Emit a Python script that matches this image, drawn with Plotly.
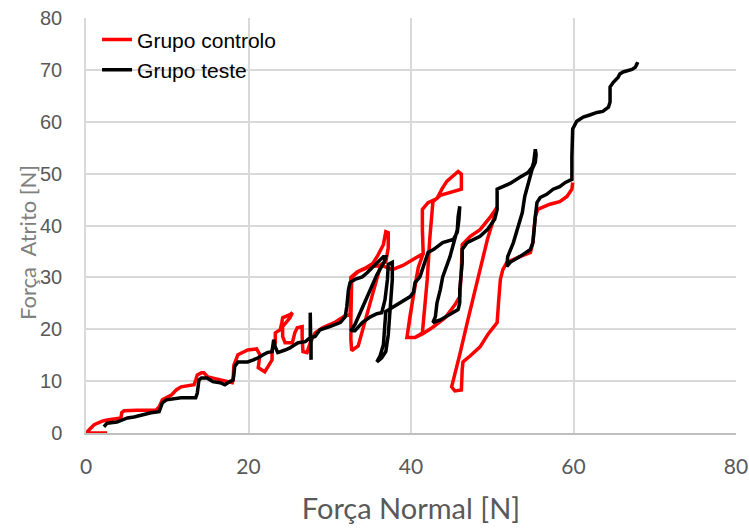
import plotly.graph_objects as go

# Grupo controlo (red)
controlo_x = [2.6, 0.0, 1.0, 2.0, 2.6, 4.3, 4.4, 4.7, 6.3, 8.6, 9.0, 9.4, 10.5, 11.1, 11.7, 12.9, 13.3, 13.5, 13.7, 14.2,
              14.5, 15.0, 16.1, 17.4, 18.0, 18.1, 18.2, 18.7, 19.9, 21.0, 21.4, 21.2, 22.0, 22.4, 22.9, 22.9, 23.3, 23.3, 23.9, 24.1,
              24.2, 25.1, 25.4, 25.1, 24.7, 24.2, 24.2, 24.5, 25.4, 25.7, 26.0, 26.6, 26.6, 26.6, 26.7, 27.2, 27.3, 27.6, 28.2, 29.1,
              30.7, 31.9, 32.5,
              32.5, 32.6, 33.4, 34.5, 35.3, 35.9, 36.6, 36.9, 37.2, 37.2, 36.9, 36.3, 35.6, 34.7, 34.0, 33.5, 32.7, 32.6, 32.6, 32.6,
              32.7, 33.5, 35.0, 36.4, 37.7, 39.0, 40.7, 41.5,
              41.4, 41.4, 42.1, 43.2, 43.8, 44.4, 45.8, 46.2, 46.2, 44.8, 43.6, 42.7, 42.3, 42.0, 41.6, 41.4, 40.5, 39.5, 39.9, 40.4,
              40.9, 41.5, 40.9, 40.4, 39.9, 39.5, 40.5, 41.4, 42.6, 44.2, 45.4, 46.0, 46.2, 46.3, 47.3, 48.5, 49.7, 50.6,
              49.4, 48.3, 47.0, 46.0, 45.0, 45.4, 46.2, 46.3, 46.4, 47.3, 48.5, 49.5, 50.6, 50.8, 51.0, 51.3, 51.8, 53.4, 54.7, 55.0,
              55.3, 55.6, 57.1, 58.3, 59.2, 59.8, 59.9]
controlo_y = [0.0, 0.0, 1.6, 2.3, 2.5, 2.9, 3.9, 4.3, 4.4, 4.4, 5.0, 6.4, 7.3, 8.3, 8.9, 9.3, 9.3, 10.2, 11.2, 11.6,
              11.6, 10.8, 10.4, 9.9, 9.7, 10.2, 13.1, 15.1, 16.0, 16.2, 15.1, 12.6, 11.8, 12.8, 14.1, 16.0, 17.4, 19.3, 19.9, 21.3,
              22.2, 22.8, 23.2, 22.2, 21.4, 20.5, 18.6, 17.4, 17.4, 19.3, 20.3, 20.5, 18.6, 16.6, 15.7, 15.5, 16.0, 17.4, 19.3, 20.3,
              21.4, 22.6, 22.8,
              26.7, 30.0, 31.1, 31.9, 32.7, 34.2, 36.3, 38.8, 38.6, 35.7, 33.0, 32.5, 28.6, 23.8, 19.9, 16.8, 15.9, 18.0, 21.8, 27.6,
              30.0, 31.1, 32.1, 32.3, 31.5, 32.3, 33.8, 34.6,
              39.2, 43.1, 44.4, 45.2, 47.0, 48.5, 50.4, 49.9, 47.0, 46.4, 45.8, 44.6, 37.3, 29.6, 22.8, 19.3, 18.4, 18.4, 22.8, 27.6,
              31.9, 34.6, 31.9, 27.6, 22.8, 18.4, 18.4, 19.1, 20.3, 22.2, 24.7, 26.3, 31.5, 36.3, 37.9, 39.2, 41.5, 43.5,
              37.3, 30.5, 21.8, 15.1, 8.9, 8.1, 8.3, 12.2, 13.7, 14.9, 16.6, 19.1, 21.3, 25.7, 29.6, 31.5, 32.9, 34.0, 34.8, 36.7,
              41.7, 43.1, 44.1, 44.6, 45.6, 47.0, 48.3]

# Grupo teste (black)
teste_x = [2.2, 2.6, 3.8, 5.1, 5.9, 6.9, 8.0, 9.0, 9.4, 9.9, 11.7, 13.5, 13.7, 13.9, 14.2, 14.9, 15.6, 16.5, 17.1, 17.7,
           18.1, 18.2, 18.3, 18.7, 19.9, 20.6, 21.2, 21.8, 22.3, 22.9, 23.0, 23.1, 23.3, 23.6, 24.5, 25.1, 25.7, 26.1, 27.0, 27.3,
           27.6, 27.6, 27.7, 27.7, 28.2, 28.8, 30.0, 31.3, 31.9, 32.1, 32.3, 32.5, 33.1, 34.0, 34.6, 35.2, 35.8, 36.6, 36.9, 36.7,
           35.8, 35.0, 34.0, 33.1, 32.6, 33.1, 34.0, 35.0, 35.8, 36.4, 36.8, 37.1, 37.2, 37.7, 37.7, 37.4, 37.2, 36.9, 36.4, 35.8,
           36.2, 36.6, 36.8, 36.9, 37.7, 38.7, 39.9, 40.3, 40.5, 41.1, 41.7, 42.1, 42.8, 43.9, 45.2, 45.7, 45.9, 46.0, 45.8, 45.7,
           44.8, 43.9, 43.6, 43.2, 43.0, 42.7, 43.6, 44.8, 45.8, 46.0, 46.0, 46.3, 46.3, 46.9, 48.5, 49.4, 50.3, 50.6, 50.6, 51.3,
           52.2, 53.4, 54.4, 54.9, 55.1, 55.3, 55.4, 55.3, 54.9, 54.4, 54.0, 53.7, 53.2, 52.6, 51.9, 51.8, 52.2, 53.4, 54.7, 55.0,
           55.3, 55.5, 55.9, 56.7, 57.5, 58.3, 59.0, 59.8, 59.8, 59.9, 60.4, 61.2, 62.0, 62.9, 63.6, 64.3, 64.5, 64.5, 64.9, 65.5,
           65.7, 66.1, 67.2, 67.6, 67.8, 67.9]
teste_y = [1.2, 1.9, 2.1, 2.9, 3.1, 3.5, 3.9, 4.1, 5.8, 6.4, 6.8, 6.8, 7.7, 10.2, 10.6, 10.6, 9.9, 9.7, 9.3, 9.9,
           10.2, 11.2, 12.8, 13.7, 13.7, 14.1, 14.5, 15.1, 15.5, 15.7, 17.4, 18.0, 16.6, 15.5, 16.0, 16.4, 17.0, 17.4, 17.6, 18.0,
           18.4, 23.2, 14.1, 18.4, 18.6, 19.9, 20.5, 21.3, 22.4, 24.4, 27.6, 29.0, 29.6, 30.1, 30.9, 31.9, 32.7, 34.0, 34.0, 33.0,
           30.5, 27.6, 23.8, 20.9, 19.7, 19.7, 21.3, 22.4, 23.0, 23.2, 25.7, 29.6, 32.5, 32.9, 29.6, 23.8, 18.9, 15.7, 14.5, 13.7,
           14.9, 17.0, 20.9, 23.4, 24.2, 25.1, 26.3, 27.1, 29.0, 30.1, 33.0, 34.8, 35.4, 36.7, 37.3, 38.7, 41.2, 43.7, 41.7, 39.2,
           34.0, 30.1, 27.6, 25.1, 22.4, 21.3, 21.8, 22.8, 23.8, 25.1, 27.6, 32.9, 35.4, 36.7, 37.9, 39.2, 41.2, 43.1, 47.0, 47.5,
           48.1, 49.3, 50.2, 51.2, 52.2, 54.7, 53.7, 52.2, 50.8, 47.9, 45.6, 42.5, 39.8, 36.7, 34.0, 32.1, 32.9, 34.0, 35.4, 36.7,
           41.7, 44.4, 45.4, 46.0, 47.0, 47.5, 48.3, 48.9, 53.3, 58.6, 60.1, 60.9, 61.3, 61.8, 62.0, 62.8, 63.8, 66.7, 67.6, 68.6,
           69.2, 69.6, 70.1, 70.5, 71.1, 71.5]

axis_ticks = [0, 20, 40, 60, 80]
y_ticks = [0, 10, 20, 30, 40, 50, 60, 70, 80]

fig = go.Figure()
fig.add_trace(go.Scatter(x=controlo_x, y=controlo_y, mode="lines", name="Grupo controlo",
                         line=dict(color="#ff0000", width=3.5)))
fig.add_trace(go.Scatter(x=teste_x, y=teste_y, mode="lines", name="Grupo teste",
                         line=dict(color="#000000", width=3.5)))

fig.update_layout(
    width=749, height=530,
    margin=dict(l=86, r=13, t=18, b=97),
    paper_bgcolor="white", plot_bgcolor="white",
    showlegend=True,
    legend=dict(x=0.017, y=0.997, xanchor="left", yanchor="top", bgcolor="rgba(0,0,0,0)",
                font=dict(family="Liberation Sans, Arial", size=21, color="#000000"),
                tracegroupgap=0, itemwidth=30),
    annotations=[dict(text="Força  Atrito [N]", x=27, y=243, xref="paper", yref="paper",
                      showarrow=False, textangle=-90,
                      font=dict(family="Lato, Open Sans", size=22, color="#808080"))],
)
# convert the annotation's pixel anchor to paper fraction
pw, ph = 749 - 86 - 13, 530 - 18 - 97
ann = fig.layout.annotations[0]
ann.update(x=(27 - 86) / pw, y=(530 - 97 - 243) / ph, xanchor="center", yanchor="middle")

fig.update_xaxes(range=[0, 80], tickvals=axis_ticks, ticktext=[str(v) for v in axis_ticks],
                 showgrid=True, gridcolor="#d9d9d9", gridwidth=1.5, zeroline=False,
                 showline=True, linecolor="#bfbfbf", linewidth=1.5, automargin=False,
                 ticks="", ticklabelstandoff=14,
                 tickfont=dict(family="Lato, Open Sans", size=21, color="#595959"),
                 title=dict(text="Força Normal [N]", standoff=22,
                            font=dict(family="Lato, Open Sans", size=29, color="#595959")))
fig.update_yaxes(range=[0, 80], tickvals=y_ticks, ticktext=[str(v) for v in y_ticks],
                 showgrid=True, gridcolor="#d9d9d9", gridwidth=1.5, zeroline=False,
                 showline=True, linecolor="#d9d9d9", linewidth=1.5, automargin=False,
                 ticks="", ticklabelstandoff=18,
                 tickfont=dict(family="Liberation Sans, Arial", size=20, color="#595959"))

fig.write_html("out.html")
